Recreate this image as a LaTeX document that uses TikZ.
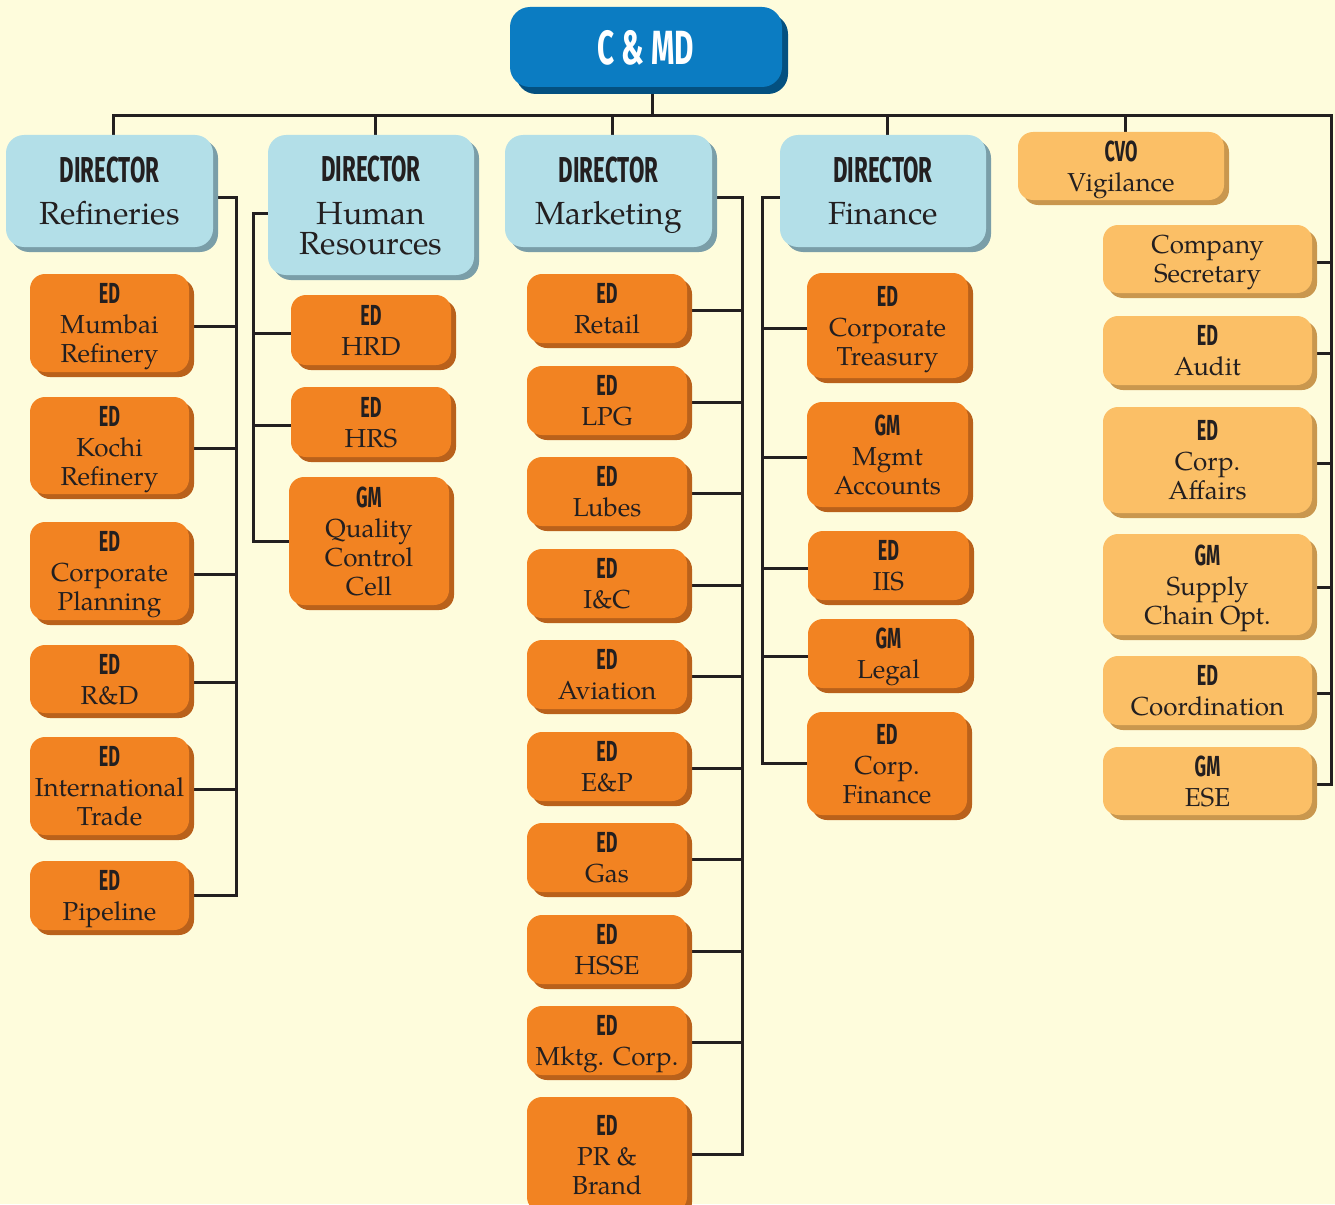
\documentclass[tikz,border=0pt]{standalone}
\usepackage{fontspec}
\setmainfont{TeX Gyre Pagella}
\newfontfamily\headfont{Fira Sans}[FakeStretch=0.62]
\usetikzlibrary{shadows}

\definecolor{paper}{RGB}{254,252,220}
\definecolor{ink}{RGB}{35,31,32}
\definecolor{chiefblue}{RGB}{11,124,194}
\definecolor{chiefshade}{RGB}{4,80,128}
\definecolor{dirblue}{RGB}{179,223,232}
\definecolor{dirshade}{RGB}{122,158,168}
\definecolor{execorange}{RGB}{242,131,34}
\definecolor{execshade}{RGB}{185,97,27}
\definecolor{staffamber}{RGB}{251,191,102}
\definecolor{staffshade}{RGB}{201,151,78}

\pgfdeclarelayer{paperlayer}
\pgfdeclarelayer{wires}
\pgfsetlayers{paperlayer,wires,main}

% condensed bold captions above the unit names
\newcommand\headtag[1]{{\headfont\bfseries\fontsize{29}{29}\selectfont #1}}
\newcommand\headtitle[1]{{\headfont\bfseries\fontsize{36}{36}\selectfont #1}}

% box given by its corners (x1,y1)-(x2,y2), y counted downwards
\newcommand\orgbox[7]{%
  \node[#2, minimum width={(#5-#3)*1pt}, minimum height={(#6-#4)*1pt}]
    (#1) at ({(#3+#5)/2},{(#4+#6)/2}) {#7};}

\tikzset{
  unit/.style={rounded corners=15pt, inner sep=0pt, align=center, text=ink,
    text depth=0pt},
  chief/.style={unit, rounded corners=20pt, fill=chiefblue, text=white,
    general shadow={fill=chiefshade, shadow xshift=6pt, shadow yshift=-7pt},
    font=\headfont\bfseries\fontsize{48}{48}\selectfont},
  director/.style={unit, rounded corners=18pt, fill=dirblue,
    general shadow={fill=dirshade, shadow xshift=5pt, shadow yshift=-5pt},
    font=\fontsize{32}{30}\selectfont},
  exec/.style={unit, fill=execorange,
    general shadow={fill=execshade, shadow xshift=5pt, shadow yshift=-5pt},
    font=\fontsize{26}{29}\selectfont},
  staff/.style={unit, fill=staffamber,
    general shadow={fill=staffshade, shadow xshift=5pt, shadow yshift=-5pt},
    font=\fontsize{26}{29}\selectfont},
  link/.style={draw=ink, line width=3pt},
}

\begin{document}
\begin{tikzpicture}[x=1pt, y=-1pt]
\begin{pgfonlayer}{paperlayer}
  \fill[paper] (0,0) rectangle (1335,1204);
\end{pgfonlayer}
\useasboundingbox (0,0) rectangle (1335,1204);

% head of the company
\orgbox{chief}{chief}{510}{7}{782}{87}{C \& MD}

% functional directors
\orgbox{ref}{director}{6}{135}{213}{247}{\headtitle{DIRECTOR}\\[12pt]Refineries}
\orgbox{hr}{director}{268}{135}{474}{275}{\headtitle{DIRECTOR}\\[13pt]Human\\Resources}
\orgbox{mkt}{director}{505}{135}{712}{247}{\headtitle{DIRECTOR}\\[12pt]Marketing}
\orgbox{fin}{director}{780}{135}{986}{247}{\headtitle{DIRECTOR}\\[12pt]Finance}
\orgbox{cvo}{staff}{1018}{132}{1224}{200}{\headtag{CVO}\\[1pt]Vigilance}

% refineries
\orgbox{mumbai}{exec}{30}{274}{189}{372}{\headtag{ED}\\[1pt]Mumbai\\Refinery}
\orgbox{kochi}{exec}{30}{397}{189}{494}{\headtag{ED}\\[1pt]Kochi\\Refinery}
\orgbox{cplan}{exec}{30}{522}{189}{620}{\headtag{ED}\\[1pt]Corporate\\Planning}
\orgbox{rnd}{exec}{30}{645}{189}{713}{\headtag{ED}\\[1pt]R\&D}
\orgbox{intl}{exec}{30}{737}{189}{835}{\headtag{ED}\\[1pt]International\\Trade}
\orgbox{pipe}{exec}{30}{861}{189}{930}{\headtag{ED}\\[1pt]Pipeline}

% human resources
\orgbox{hrd}{exec}{291}{295}{451}{365}{\headtag{ED}\\[1pt]HRD}
\orgbox{hrs}{exec}{291}{387}{451}{457}{\headtag{ED}\\[1pt]HRS}
\orgbox{qcc}{exec}{289}{477}{449}{605}{\headtag{GM}\\[1pt]Quality\\Control\\Cell}

% marketing
\orgbox{retail}{exec}{527}{274}{687}{343}{\headtag{ED}\\[1pt]Retail}
\orgbox{lpg}{exec}{527}{366}{687}{435}{\headtag{ED}\\[1pt]LPG}
\orgbox{lubes}{exec}{527}{457}{687}{526}{\headtag{ED}\\[1pt]Lubes}
\orgbox{ic}{exec}{527}{549}{687}{618}{\headtag{ED}\\[1pt]I\&C}
\orgbox{avia}{exec}{527}{640}{687}{709}{\headtag{ED}\\[1pt]Aviation}
\orgbox{ep}{exec}{527}{732}{687}{801}{\headtag{ED}\\[1pt]E\&P}
\orgbox{gas}{exec}{527}{823}{687}{892}{\headtag{ED}\\[1pt]Gas}
\orgbox{hsse}{exec}{527}{915}{687}{984}{\headtag{ED}\\[1pt]HSSE}
\orgbox{mcorp}{exec}{527}{1006}{687}{1075}{\headtag{ED}\\[1pt]Mktg. Corp.}
\orgbox{prb}{exec}{527}{1097}{687}{1212}{\headtag{ED}\\[1pt]PR \&\\Brand}

% finance
\orgbox{treas}{exec}{807}{273}{968}{378}{\headtag{ED}\\[1pt]Corporate\\Treasury}
\orgbox{macc}{exec}{807}{402}{968}{507}{\headtag{GM}\\[1pt]Mgmt\\Accounts}
\orgbox{iis}{exec}{808}{531}{969}{600}{\headtag{ED}\\[1pt]IIS}
\orgbox{legal}{exec}{808}{619}{969}{688}{\headtag{GM}\\[1pt]Legal}
\orgbox{cfin}{exec}{807}{712}{967}{815}{\headtag{ED}\\[1pt]Corp.\\Finance}

% units reporting straight to the chief
\orgbox{csec}{staff}{1103}{225}{1312}{293}{Company\\Secretary}
\orgbox{audit}{staff}{1103}{316}{1312}{385}{\headtag{ED}\\[1pt]Audit}
\orgbox{caff}{staff}{1103}{407}{1312}{513}{\headtag{ED}\\[1pt]Corp.\\Affairs}
\orgbox{scopt}{staff}{1103}{534}{1312}{635}{\headtag{GM}\\[1pt]Supply\\Chain Opt.}
\orgbox{coord}{staff}{1103}{656}{1312}{725}{\headtag{ED}\\[1pt]Coordination}
\orgbox{ese}{staff}{1103}{747}{1312}{815}{\headtag{GM}\\[1pt]ESE}

% bus positions
\coordinate (topbus) at (1331,116);
\coordinate (refbus) at (236,0);
\coordinate (hrbus) at (253,0);
\coordinate (mktbus) at (742,0);
\coordinate (finbus) at (762,0);

\begin{pgfonlayer}{wires}
  % top level
  \draw[link] ([xshift=4pt]ref.north) |- (topbus) -- ([yshift=-3pt]ese.east -| topbus)
    -- ([yshift=-3pt]ese.east);
  \draw[link] ([xshift=6pt]chief.south) -- ([xshift=6pt]chief.south |- topbus);
  \foreach \n in {hr,mkt,fin,cvo}
    \draw[link] ([xshift=4pt]\n.north) -- ([xshift=4pt]\n.north |- topbus);
  \foreach \n in {csec,audit,caff,scopt,coord}
    \draw[link] ([yshift=-3pt]\n.east) -- ([yshift=-3pt]\n.east -| topbus);
  % refineries
  \draw[link] ([yshift=-6pt]ref.east) -| (refbus |- pipe.east) -- (pipe.east);
  \foreach \n in {mumbai,kochi,cplan,rnd,intl}
    \draw[link] ([yshift=-3pt]\n.east) -- ([yshift=-3pt]\n.east -| refbus);
  % human resources
  \draw[link] ([yshift=-8pt]hr.west) -| (hrbus |- qcc.west) -- (qcc.west);
  \foreach \n in {hrd,hrs}
    \draw[link] ([yshift=-3pt]\n.west) -- ([yshift=-3pt]\n.west -| hrbus);
  % marketing
  \draw[link] ([yshift=-6pt]mkt.east) -| (mktbus |- prb.east) -- (prb.east);
  \foreach \n in {retail,lpg,lubes,ic,avia,ep,gas,hsse,mcorp}
    \draw[link] ([yshift=-2pt]\n.east) -- ([yshift=-2pt]\n.east -| mktbus);
  % finance
  \draw[link] ([yshift=-6pt]fin.west) -| (finbus |- cfin.west) -- (cfin.west);
  \foreach \n in {treas,macc,iis,legal}
    \draw[link] ([yshift=-3pt]\n.west) -- ([yshift=-3pt]\n.west -| finbus);
\end{pgfonlayer}
\end{tikzpicture}
\end{document}
